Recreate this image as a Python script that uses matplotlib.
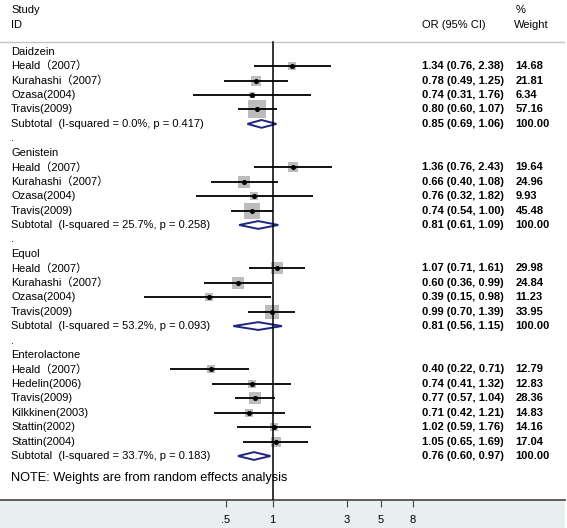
import matplotlib
matplotlib.use('Agg')
import matplotlib.pyplot as plt
from matplotlib.patches import Polygon, Rectangle
from matplotlib.ticker import NullLocator
import matplotlib.transforms as mtransforms
import numpy as np

plt.rcParams['font.family'] = 'Liberation Sans'
CJK_FAMILY = ['Liberation Sans', 'Noto Sans CJK SC']

# ---------------- data ----------------
groups = ['Daidzein', 'Genistein', 'Equol', 'Enterolactone']
studies = [
    ['Heald（2007）', 'Kurahashi（2007）', 'Ozasa(2004)', 'Travis(2009)'],
    ['Heald（2007）', 'Kurahashi（2007）', 'Ozasa(2004)', 'Travis(2009)'],
    ['Heald（2007）', 'Kurahashi（2007）', 'Ozasa(2004)', 'Travis(2009)'],
    ['Heald（2007）', 'Hedelin(2006)', 'Travis(2009)', 'Kilkkinen(2003)',
     'Stattin(2002)', 'Stattin(2004)'],
]
or_vals = [
    [1.34, 0.78, 0.74, 0.80],
    [1.36, 0.66, 0.76, 0.74],
    [1.07, 0.60, 0.39, 0.99],
    [0.40, 0.74, 0.77, 0.71, 1.02, 1.05],
]
ci_low = [
    [0.76, 0.49, 0.31, 0.60],
    [0.76, 0.40, 0.32, 0.54],
    [0.71, 0.36, 0.15, 0.70],
    [0.22, 0.41, 0.57, 0.42, 0.59, 0.65],
]
ci_high = [
    [2.38, 1.25, 1.76, 1.07],
    [2.43, 1.08, 1.82, 1.00],
    [1.61, 0.99, 0.98, 1.39],
    [0.71, 1.32, 1.04, 1.21, 1.76, 1.69],
]
weights = [
    [14.68, 21.81, 6.34, 57.16],
    [19.64, 24.96, 9.93, 45.48],
    [29.98, 24.84, 11.23, 33.95],
    [12.79, 12.83, 28.36, 14.83, 14.16, 17.04],
]
sub_or = [0.85, 0.81, 0.81, 0.76]
sub_low = [0.69, 0.61, 0.56, 0.60]
sub_high = [1.06, 1.09, 1.15, 0.97]
i_squared = [0.0, 25.7, 53.2, 33.7]
p_het = [0.417, 0.258, 0.093, 0.183]
xticks = [0.5, 1, 3, 5, 8]
xtick_labels = ['.5', '1', '3', '5', '8']
note = 'NOTE: Weights are from random effects analysis'

# ---------------- layout ----------------
W, H = 567, 528
FS = 8.0
fig = plt.figure(figsize=(W / 100, H / 100), dpi=100)
fig.patches.append(Rectangle((0, 0), 565 / W, 28 / H, transform=fig.transFigure,
                             facecolor='#e8eff1', edgecolor='none', zorder=-5))
ax = fig.add_axes([0, 28 / H, 565 / W, 1 - 28 / H])
ax.set_facecolor('white')
ax.set_xscale('log')
px_per_ln = 67.5
x_null_px = 272.5
ax.set_xlim(np.exp(-x_null_px / px_per_ln), np.exp((565 - x_null_px) / px_per_ln))
row_h = 14.44
row0 = 51.7
ax.set_ylim((500 - row0) / row_h, -row0 / row_h)

def py(p):
    return (p - row0) / row_h

tr = mtransforms.blended_transform_factory(ax.transAxes, ax.transData)
xl = 11 / 565
xor = 421.5 / 565
xw = 515.5 / 565

def label(x, y, s, fs=FS, **kw):
    fam = CJK_FAMILY if any(ord(c) > 0x2000 for c in s) else 'Liberation Sans'
    ax.text(x, y, s, transform=tr, fontsize=fs, va='center', ha='left',
            family=fam, zorder=6, **kw)

# headers
label(xl, py(10), 'Study')
label(xl, py(24.5), 'ID')
label(xor, py(24.5), 'OR (95% CI)')
label(xw, py(10), '%')
label(xw - 1.5 / 565, py(24.5), 'Weight')
sep_y = py(42)
ax.axhline(sep_y, color='#c4c4c4', lw=1.0, zorder=1)

sq_color = '#bcbcbc'
dia_color = '#1c2680'
row = 0
for gi, g in enumerate(groups):
    label(xl, row, g)
    row += 1
    for si, s in enumerate(studies[gi]):
        o, lo, hi, w = or_vals[gi][si], ci_low[gi][si], ci_high[gi][si], weights[gi][si]
        side_px = 2.25 * np.sqrt(w)
        ax.scatter([o], [row], marker='s', s=(side_px * 0.72) ** 2, color=sq_color,
                   linewidths=0, zorder=2)
        ax.plot([lo, hi], [row, row], color='black', lw=1.3, zorder=3,
                solid_capstyle='butt')
        ax.plot([o], [row], marker='o', ms=2.6, color='black', zorder=4)
        label(xl, row, s)
        label(xor, row, f'{o:.2f} ({lo:.2f}, {hi:.2f})', fontweight='bold')
        label(xw, row, f'{w:.2f}', fontweight='bold')
        row += 1
    o, lo, hi = sub_or[gi], sub_low[gi], sub_high[gi]
    hh = 0.27
    dia = Polygon([[lo, row], [o, row - hh], [hi, row], [o, row + hh]], closed=True,
                  facecolor='white', edgecolor=dia_color, lw=1.4, zorder=3)
    ax.add_patch(dia)
    label(xl, row, f'Subtotal  (I-squared = {i_squared[gi]:.1f}%, p = {p_het[gi]:.3f})')
    label(xor, row, f'{o:.2f} ({lo:.2f}, {hi:.2f})', fontweight='bold')
    label(xw, row, '100.00', fontweight='bold')
    row += 1
    if gi < len(groups) - 1:
        label(xl, row, '.')
        row += 1

label(xl, row + 0.5, note, fs=9.2)

# null line
ax.plot([1, 1], [sep_y, (500 - row0) / row_h], color='black', lw=1.1, zorder=5)

# axis
for sp in ['top', 'left', 'right']:
    ax.spines[sp].set_visible(False)
ax.spines['bottom'].set_color('#505050')
ax.spines['bottom'].set_linewidth(1.3)
ax.set_yticks([])
ax.set_xticks(xticks)
ax.set_xticklabels(xtick_labels)
ax.xaxis.set_minor_locator(NullLocator())
ax.tick_params(axis='x', direction='out', length=5, width=0.8, color='#404040',
               pad=5.5, labelsize=FS)

fig.savefig('out.png', dpi=100, facecolor='white')
